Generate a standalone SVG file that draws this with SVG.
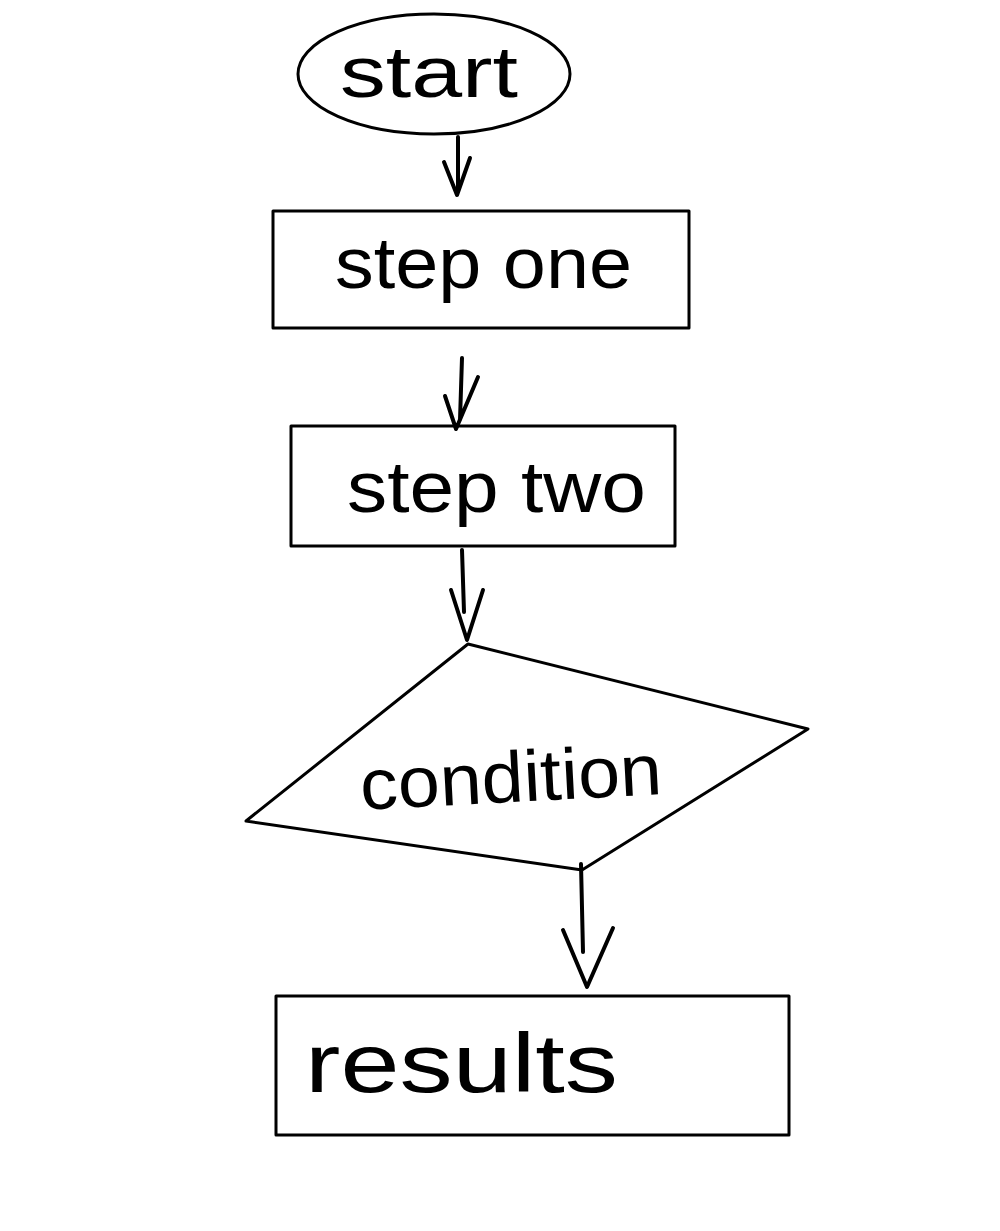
<svg xmlns="http://www.w3.org/2000/svg" width="1000" height="1231" viewBox="0 0 1000 1231">
<style>
.shape{fill:none;stroke:#000;stroke-width:3;stroke-linejoin:round}
.conn{fill:none;stroke:#000;stroke-width:4;stroke-linecap:round;stroke-linejoin:round}
.lbl{font-family:"Liberation Sans","DejaVu Sans",sans-serif;fill:#000;font-weight:normal}
</style>
<rect width="1000" height="1231" fill="#fff"/>
<g id="start">
<ellipse class="shape" cx="434" cy="74" rx="136" ry="60"/>
<text class="lbl" x="340" y="97" font-size="72" textLength="178" lengthAdjust="spacingAndGlyphs">start</text>
</g>
<g id="step-one">
<rect class="shape" x="273" y="211" width="416" height="117"/>
<text class="lbl" x="335" y="288" font-size="72" textLength="297" lengthAdjust="spacingAndGlyphs">step one</text>
</g>
<g id="step-two">
<rect class="shape" x="291" y="426" width="384" height="120"/>
<text class="lbl" x="347" y="512" font-size="72" textLength="299" lengthAdjust="spacingAndGlyphs">step two</text>
</g>
<g id="condition">
<polygon class="shape" points="468,644 808,729 582,870 246,821"/>
<text class="lbl" x="360" y="802" font-size="72" textLength="302" lengthAdjust="spacingAndGlyphs" transform="rotate(-3 510 780)">condition</text>
</g>
<g id="results">
<rect class="shape" x="276" y="996" width="513" height="139"/>
<text class="lbl" x="305" y="1092" font-size="84" textLength="313" lengthAdjust="spacingAndGlyphs">results</text>
</g>
<g id="connectors">
<path class="conn" d="M458,137 L458,192 M444,162 L457,195 L470,158"/>
<path class="conn" d="M462,358 L460,420 M445,396 L456,429 L478,377"/>
<path class="conn" d="M462,550 L464,612 M451,590 L467,640 L483,590"/>
<path class="conn" d="M581,864 L583,952 M563,930 L587,987 L613,928"/>
</g>
</svg>
